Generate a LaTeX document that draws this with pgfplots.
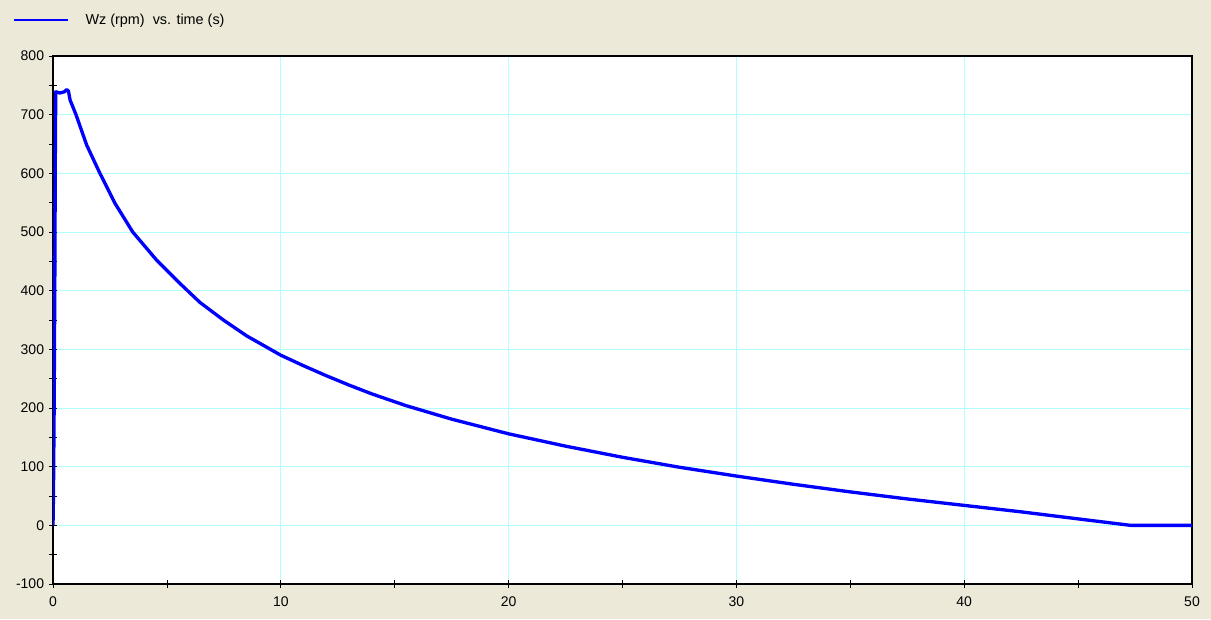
\documentclass[border=0pt]{standalone}
\usepackage{fontspec}
\setmainfont{Liberation Sans}
\usepackage{pgfplots}
\pgfplotsset{compat=1.18}
\definecolor{bgc}{RGB}{236,233,216}
\definecolor{gridc}{RGB}{175,255,255}
\begin{document}
\fontsize{10.5pt}{12pt}\selectfont
\begin{tikzpicture}
\fill[bgc] (0,0) rectangle (908.25pt,464.25pt);
\begin{axis}[
  at={(39.75pt,26.25pt)}, anchor=south west,
  scale only axis, width=854.25pt, height=396pt,
  xmin=0, xmax=50, ymin=-100, ymax=800,
  xtick={0,10,...,50}, minor xtick={5,15,...,45},
  ytick={-100,0,...,800}, minor ytick={-50,50,...,750},
  xtick pos=bottom, ytick pos=left,
  grid=major, major grid style={gridc, line width=0.6pt},
  axis background/.style={fill=white},
  axis line style={black, line width=1.1pt},
  tick style={black, line width=0.6pt},
  tick align=center, major tick length=6pt, minor tick length=6pt,
  /pgf/number format/assume math mode=true,
  tick label style={font=\fontsize{10.5pt}{12pt}\selectfont},
  xticklabel style={yshift=-3pt},
  legend style={at={(rel axis cs:-0.036,1.068)}, anchor=west, draw=none, fill=none, inner xsep=0pt,
    font=\fontsize{10.8pt}{12pt}\selectfont},
  legend image code/.code={\draw[#1, line width=2pt] (0pt,0pt) -- (41pt,0pt);},
  legend cell align=left,
  clip=true,
]
\addplot[blue, line width=2.5pt, line join=round] coordinates {
(0,0) (0.02,50) (0.05,200) (0.08,420) (0.1,620) (0.12,739)
(0.3,737) (0.5,739) (0.6,743) (0.68,740) (0.75,725) (1.01,700) (1.48,648)
(2.06,600) (2.72,549) (3.5,500) (4.55,452) (5.5,415) (6.45,380)
(7.48,350) (8.5,323) (9.5,301) (10,290) (11,272) (12,255) (13,239)
(14,224) (15.5,204) (17.5,181) (20,156) (22.5,135) (25,116)
(27.5,99) (30,84) (32.5,70) (35,57) (37.5,45) (40,34)
(42.5,23) (45,11) (47.3,0) (50,0)
};
\addlegendentry{\hspace{10pt}Wz (rpm)\ \ vs. time (s)}
\end{axis}
\end{tikzpicture}
\end{document}
